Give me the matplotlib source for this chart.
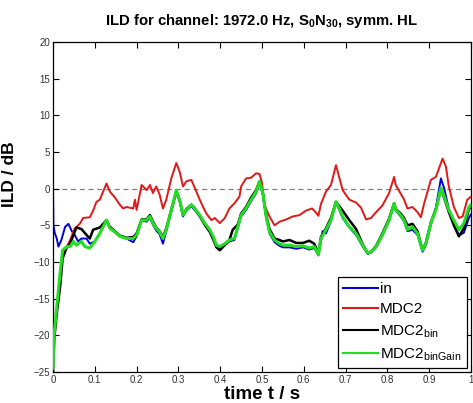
import matplotlib
matplotlib.use("Agg")
import matplotlib.pyplot as plt

plt.rcParams['font.family'] = ['Liberation Sans', 'DejaVu Sans']
plt.rcParams['mathtext.fontset'] = 'custom'
plt.rcParams['mathtext.rm'] = 'Liberation Sans'
plt.rcParams['mathtext.bf'] = 'Liberation Sans:bold'

title = r"ILD for channel: 1972.0 Hz, S$_{\mathbf{0}}$N$_{\mathbf{30}}$, symm. HL"
labels = ["in", "MDC2", r"MDC2$_{\mathrm{bin}}$", r"MDC2$_{\mathrm{binGain}}$"]
xticks = [0, 0.1, 0.2, 0.3, 0.4, 0.5, 0.6, 0.7, 0.8, 0.9, 1]
xticklabels = ["0", "0.1", "0.2", "0.3", "0.4", "0.5", "0.6", "0.7", "0.8", "0.9", "1"]
yticks = [-25, -20, -15, -10, -5, 0, 5, 10, 15, 20]

t_in = [0.0, 0.001, 0.004, 0.009, 0.013, 0.02, 0.029, 0.037, 0.045, 0.052, 0.06, 0.068, 0.08, 0.088,
        0.1, 0.112, 0.128, 0.136, 0.148, 0.16, 0.176, 0.192, 0.2, 0.212, 0.224, 0.232, 0.239, 0.247,
        0.255, 0.263, 0.271, 0.283, 0.295, 0.303, 0.311, 0.319, 0.331, 0.339, 0.351, 0.363, 0.375,
        0.383, 0.391, 0.399, 0.411, 0.422, 0.434, 0.442, 0.45, 0.462, 0.474, 0.486, 0.494, 0.502,
        0.51, 0.518, 0.53, 0.542, 0.55, 0.566, 0.582, 0.598, 0.613, 0.625, 0.635, 0.641, 0.645,
        0.653, 0.665, 0.677, 0.685, 0.693, 0.709, 0.725, 0.741, 0.753, 0.761, 0.773, 0.788, 0.804,
        0.816, 0.82, 0.832, 0.84, 0.848, 0.86, 0.872, 0.884, 0.892, 0.904, 0.916, 0.928, 0.936,
        0.947, 0.959, 0.971, 0.983, 0.995, 1.0]
ild_in = [0.2, -5.0, -6.0, -6.8, -7.9, -7.0, -5.2, -4.8, -5.8, -6.3, -7.2, -6.8, -6.8, -7.5,
          -7.2, -6.1, -4.3, -5.4, -5.9, -6.5, -6.8, -7.3, -6.5, -4.3, -4.5, -4.0, -4.9, -5.7,
          -6.2, -7.5, -5.8, -3.1, -0.4, -1.7, -3.8, -3.0, -2.4, -2.9, -3.8, -4.9, -5.8,
          -6.7, -7.8, -8.1, -7.7, -7.2, -7.0, -5.4, -3.8, -2.9, -1.7, -0.6, 0.8, -0.8,
          -4.0, -6.1, -7.3, -7.8, -8.0, -8.0, -8.2, -8.0, -8.3, -8.1, -9.1, -7.2, -5.8,
          -6.1, -4.4, -1.9, -2.9, -4.0, -5.3, -6.3, -7.9, -8.9, -8.7, -8.0, -6.4, -4.4,
          -2.1, -3.0, -3.8, -4.5, -5.8, -5.6, -6.3, -8.6, -7.7, -4.9, -2.6, 1.4, 0.0,
          -2.8, -4.8, -6.4, -6.0, -4.0, -3.5]

t_mdc2 = [0.0, 0.003, 0.009, 0.017, 0.023, 0.033, 0.041, 0.052, 0.064, 0.072, 0.088, 0.096, 0.104,
          0.112, 0.128, 0.136, 0.148, 0.16, 0.168, 0.176, 0.184, 0.192, 0.196, 0.2, 0.212, 0.224,
          0.232, 0.239, 0.247, 0.255, 0.263, 0.271, 0.283, 0.295, 0.303, 0.311, 0.319, 0.331, 0.343,
          0.351, 0.359, 0.367, 0.379, 0.387, 0.399, 0.411, 0.422, 0.434, 0.446, 0.45, 0.462, 0.474,
          0.486, 0.494, 0.5, 0.506, 0.518, 0.53, 0.542, 0.558, 0.573, 0.59, 0.605, 0.62, 0.628,
          0.635, 0.641, 0.653, 0.665, 0.677, 0.685, 0.693, 0.709, 0.725, 0.737, 0.749, 0.761, 0.773,
          0.788, 0.804, 0.816, 0.82, 0.832, 0.84, 0.848, 0.86, 0.872, 0.88, 0.888, 0.904, 0.916,
          0.932, 0.94, 0.947, 0.959, 0.971, 0.98, 0.991, 1.0]
ild_mdc2 = [-23.5, -20.0, -16.5, -11.8, -8.6, -7.9, -7.0, -5.4, -4.8, -4.0, -3.9, -3.0, -1.8,
            -1.5, 0.7, -0.4, -1.2, -2.2, -2.7, -2.5, -2.6, -2.7, -1.5, -2.9, 0.5, -0.2,
            0.5, -0.6, 0.3, -0.8, -2.7, -1.5, 1.4, 3.5, 2.3, 0.3, 1.0, 1.2, -0.4,
            -1.5, -2.5, -3.4, -4.3, -4.0, -4.7, -4.0, -2.7, -2.0, -1.1, 0.3, 1.4, 1.5,
            2.1, 2.0, 0.8, -2.3, -3.8, -5.0, -4.5, -4.2, -3.8, -3.6, -3.0, -2.7, -3.2,
            -3.7, -2.1, -0.4, 0.5, 3.2, 1.5, -0.2, -1.5, -1.9, -2.6, -4.2, -4.0, -3.2,
            -2.3, -0.6, 1.6, 0.5, -0.7, -1.5, -2.7, -2.5, -3.2, -3.9, -2.0, 1.2, 1.6,
            4.1, 3.0, 0.3, -2.5, -4.0, -3.8, -1.5, -1.1]

t_bin = [0.0, 0.003, 0.009, 0.017, 0.023, 0.033, 0.041, 0.049, 0.056, 0.068, 0.08, 0.088, 0.096,
         0.112, 0.128, 0.136, 0.148, 0.16, 0.176, 0.192, 0.2, 0.212, 0.224, 0.232, 0.239, 0.247,
         0.255, 0.263, 0.271, 0.283, 0.295, 0.303, 0.311, 0.319, 0.331, 0.339, 0.351, 0.363, 0.375,
         0.383, 0.391, 0.399, 0.411, 0.422, 0.43, 0.442, 0.45, 0.462, 0.474, 0.486, 0.494, 0.502,
         0.51, 0.518, 0.53, 0.542, 0.55, 0.566, 0.582, 0.598, 0.613, 0.625, 0.635, 0.641, 0.653,
         0.665, 0.677, 0.685, 0.693, 0.709, 0.725, 0.741, 0.753, 0.761, 0.773, 0.788, 0.804, 0.816,
         0.82, 0.832, 0.84, 0.848, 0.86, 0.872, 0.884, 0.892, 0.904, 0.916, 0.928, 0.936, 0.947,
         0.959, 0.971, 0.983, 0.995, 1.0]
ild_bin = [-25.0, -20.5, -17.0, -13.4, -9.5, -8.0, -7.5, -6.3, -5.3, -5.5, -6.3, -6.8, -5.6,
           -5.3, -4.3, -5.2, -5.8, -6.4, -6.7, -6.6, -6.1, -4.2, -4.2, -3.6, -4.5, -5.3,
           -5.8, -6.6, -5.4, -2.9, -0.4, -1.6, -3.6, -2.8, -2.2, -2.7, -3.7, -4.9, -5.9,
           -6.9, -8.0, -8.4, -7.7, -7.0, -5.6, -4.9, -3.4, -2.5, -1.2, -0.2, 1.0, -0.6,
           -3.6, -5.5, -6.8, -7.0, -7.2, -7.0, -7.4, -7.4, -7.1, -7.5, -8.8, -6.6, -5.4,
           -4.0, -1.8, -2.4, -3.0, -4.3, -5.5, -7.6, -8.8, -8.6, -7.8, -6.1, -4.1, -2.0,
           -2.8, -3.4, -4.0, -5.0, -4.8, -5.8, -8.4, -7.4, -4.6, -2.8, 0.0, -1.3, -3.2,
           -5.0, -6.5, -5.4, -2.8, -2.4]

t_gain = [0.0, 0.003, 0.009, 0.017, 0.023, 0.033, 0.041, 0.049, 0.056, 0.068, 0.076, 0.088, 0.1,
          0.112, 0.128, 0.136, 0.148, 0.16, 0.176, 0.192, 0.2, 0.212, 0.224, 0.232, 0.239, 0.247,
          0.255, 0.263, 0.271, 0.283, 0.295, 0.303, 0.311, 0.319, 0.331, 0.339, 0.351, 0.363, 0.375,
          0.383, 0.391, 0.399, 0.411, 0.422, 0.434, 0.442, 0.45, 0.462, 0.474, 0.486, 0.494, 0.502,
          0.51, 0.518, 0.53, 0.542, 0.55, 0.566, 0.582, 0.598, 0.613, 0.625, 0.635, 0.641, 0.653,
          0.665, 0.677, 0.685, 0.693, 0.709, 0.725, 0.741, 0.753, 0.761, 0.773, 0.788, 0.804, 0.816,
          0.82, 0.832, 0.84, 0.848, 0.86, 0.872, 0.884, 0.892, 0.904, 0.916, 0.928, 0.936, 0.947,
          0.959, 0.971, 0.983, 0.995, 1.0]
ild_gain = [-24.5, -19.7, -16.1, -11.5, -8.4, -7.9, -7.9, -7.2, -7.7, -7.2, -7.9, -8.1, -7.2,
            -6.1, -4.3, -5.4, -5.9, -6.5, -6.8, -6.8, -6.3, -4.3, -4.3, -3.8, -4.7, -5.4,
            -5.9, -6.8, -5.6, -2.9, -0.2, -1.5, -3.6, -2.9, -2.2, -2.7, -3.6, -4.7, -5.6,
            -6.5, -7.7, -7.9, -7.5, -7.0, -6.8, -5.2, -3.6, -2.7, -1.5, -0.4, 1.0, -0.6,
            -3.8, -5.9, -7.0, -7.5, -7.7, -7.7, -7.9, -7.8, -8.1, -7.9, -9.0, -6.8, -5.6,
            -4.3, -1.8, -2.7, -3.8, -5.2, -6.1, -7.7, -8.8, -8.6, -7.9, -6.3, -4.3, -2.0,
            -2.9, -3.6, -4.3, -5.6, -5.2, -6.1, -8.4, -7.5, -4.7, -2.9, 0.1, -1.1, -2.9,
            -4.3, -5.6, -4.7, -2.5, -2.2]

fig = plt.figure(figsize=(4.73, 4.03), dpi=100)
ax = fig.add_axes([53/473, 1 - 372/403, 418/473, 330/403])

ax.axhline(0, color='#808080', lw=0.9, ls=(0, (4, 3)), zorder=1)
ax.plot(t_in, ild_in, color='#0000d8', lw=1.4, label=labels[0], zorder=2)
ax.plot(t_mdc2, ild_mdc2, color='#e01818', lw=1.4, label=labels[1], zorder=3)
ax.plot(t_bin, ild_bin, color='black', lw=1.8, label=labels[2], zorder=4)
ax.plot(t_gain, ild_gain, color='#22dd22', lw=2.2, label=labels[3], zorder=5)

ax.set_xlim(0, 1)
ax.set_ylim(-25, 20)
ax.set_xticks(xticks)
ax.set_xticklabels(xticklabels)
ax.set_yticks(yticks)
ax.tick_params(direction='in', top=True, right=True, length=4, width=0.8,
               labelsize=7, labelcolor='#333333', pad=2)
for s in ax.spines.values():
    s.set_linewidth(0.9)

ax.set_title(title, fontsize=10.7, fontweight='bold', pad=12)
ax.set_xlabel("time t / s", fontsize=13.5, fontweight='bold', labelpad=1)
ax.set_ylabel("ILD / dB", fontsize=12.5, fontweight='bold', labelpad=6)
ax.yaxis.set_label_coords(-0.085, 0.6)

leg = ax.legend(loc='lower right', bbox_to_anchor=(0.99, 0.012), borderaxespad=0,
                fancybox=False, framealpha=1, edgecolor='black', fontsize=11,
                handlelength=2.3, handletextpad=0.1, labelspacing=0.42, borderpad=0.35)
leg.get_frame().set_linewidth(0.9)
for ln in leg.get_lines():
    ln.set_linewidth(1.5)

fig.savefig("out.png", dpi=100)
